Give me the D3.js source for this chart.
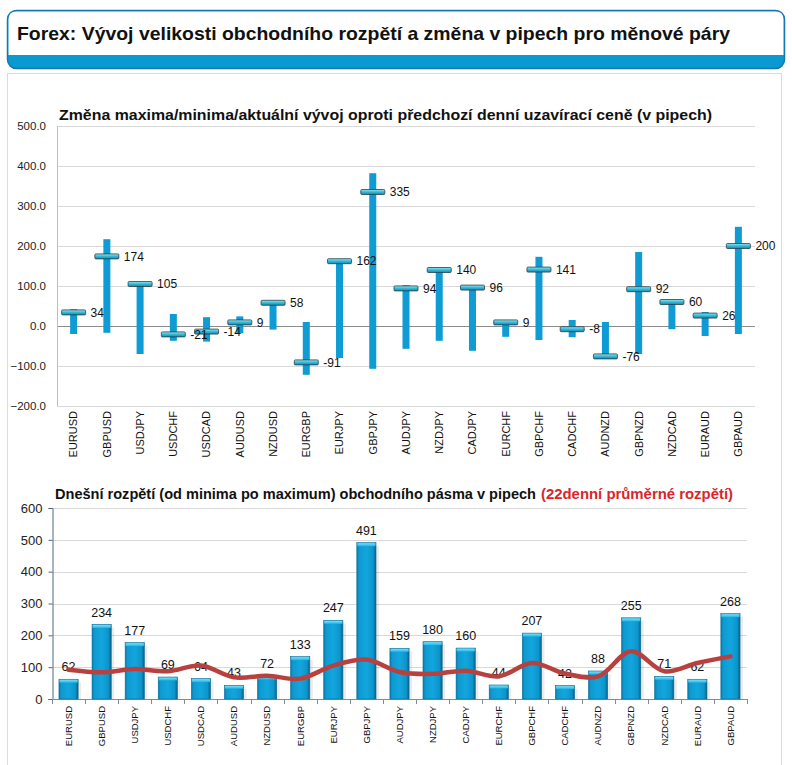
<!DOCTYPE html>
<html><head><meta charset="utf-8">
<script src="https://cdn.jsdelivr.net/npm/d3@7"></script>
<style>body{margin:0;background:#fff;}svg{display:block;font-family:"Liberation Sans",Arial,sans-serif;}</style>
</head><body>
<svg id="c" width="792" height="765"></svg>
<script>
const pairs = ["EURUSD","GBPUSD","USDJPY","USDCHF","USDCAD","AUDUSD","NZDUSD","EURGBP","EURJPY","GBPJPY","AUDJPY","NZDJPY","CADJPY","EURCHF","GBPCHF","CADCHF","AUDNZD","GBPNZD","NZDCAD","EURAUD","GBPAUD"];
const highChange = [42,217,108,30,22,24,60,10,165,382,102,143,99,12,173,15,10,185,63,35,248];
const lowChange = [-20,-17,-70,-37,-39,-18,-9,-122,-80,-107,-57,-37,-62,-27,-35,-28,-78,-70,-8,-25,-20];
const currentChange = [34,174,105,-21,-14,9,58,-91,162,335,94,140,96,9,141,-8,-76,92,60,26,200];
const topTicks = [-200,-100,0,100,200,300,400,500];
const todayRange = [62,234,177,69,64,43,72,133,247,491,159,180,160,44,207,42,88,255,71,62,268];
const avgRange22 = [92,84,94,87,105,68,73,64,105,124,85,79,89,71,113,80,71,150,87,113,134];
const bottomTicks = [0,100,200,300,400,500,600];

const svg = d3.select("#c");
const defs = svg.append("defs");

const gb = defs.append("linearGradient").attr("id","barGrad").attr("x1",0).attr("x2",1).attr("y1",0).attr("y2",0);
[[0,"#0a78a8"],[0.12,"#0e9ad0"],[0.5,"#12a6de"],[0.85,"#0c95cb"],[1,"#075f86"]].forEach(s=>gb.append("stop").attr("offset",s[0]).attr("stop-color",s[1]));
const gm = defs.append("linearGradient").attr("id","mkGrad").attr("x1",0).attr("x2",0).attr("y1",0).attr("y2",1);
[[0,"#9be6ee"],[0.45,"#3bbfd8"],[1,"#0f86b8"]].forEach(s=>gm.append("stop").attr("offset",s[0]).attr("stop-color",s[1]));
const gt = defs.append("linearGradient").attr("id","capGrad").attr("x1",0).attr("x2",0).attr("y1",0).attr("y2",1);
[[0,"#7fe0f4"],[1,"#1fb3e6"]].forEach(s=>gt.append("stop").attr("offset",s[0]).attr("stop-color",s[1]));

// header box
svg.append("rect").attr("x",7.5).attr("y",10.5).attr("width",777).attr("height",58).attr("rx",9)
  .attr("fill","#0a9ad0").attr("stroke","#1478b4").attr("stroke-width",1.5);
svg.append("path").attr("d","M8.5,55 L8.5,19.5 Q8.5,11.5 16.5,11.5 L775.5,11.5 Q783.5,11.5 783.5,19.5 L783.5,55 Z").attr("fill","#fff");
svg.append("text").attr("x",17).attr("y",40).attr("font-size",19).attr("font-weight","bold").attr("fill","#111")
  .attr("textLength",713).attr("lengthAdjust","spacingAndGlyphs")
  .text("Forex: Vývoj velikosti obchodního rozpětí a změna v pipech pro měnové páry");

// panel
svg.append("rect").attr("x",7.5).attr("y",73.5).attr("width",774).attr("height",700).attr("fill","#fff").attr("stroke","#dcdcdc");

// ---------- top chart ----------
const xT = d3.scaleBand().domain(pairs).range([57,755]);
const yT = d3.scaleLinear().domain([-200,500]).range([406,126]);
const gT = svg.append("g");
gT.append("text").attr("x",59).attr("y",120).attr("font-size",15).attr("font-weight","bold").attr("fill","#111")
  .attr("textLength",653).attr("lengthAdjust","spacingAndGlyphs")
  .text("Změna maxima/minima/aktuální vývoj oproti předchozí denní uzavírací ceně (v pipech)");
gT.selectAll(".grid").data(topTicks).join("line").attr("x1",57).attr("x2",755)
  .attr("y1",d=>Math.round(yT(d))+0.5).attr("y2",d=>Math.round(yT(d))+0.5)
  .attr("stroke",d=>d===0?"#8c8c8c":"#d9d9d9");
gT.append("line").attr("x1",57.5).attr("x2",57.5).attr("y1",126).attr("y2",406).attr("stroke","#bdbdbd");
gT.selectAll(".yl").data(topTicks).join("text").attr("x",46).attr("y",d=>yT(d)).attr("dy","0.35em")
  .attr("text-anchor","end").attr("font-size",11.5).attr("fill","#222").text(d=>d3.format(".1f")(d));
const cx = d=>xT(d)+xT.bandwidth()/2;
gT.selectAll(".rng").data(pairs).join("rect").attr("x",d=>cx(d)-3.5).attr("width",7)
  .attr("y",(d,i)=>yT(highChange[i])).attr("height",(d,i)=>yT(lowChange[i])-yT(highChange[i])).attr("fill","#0f9bd3");
gT.selectAll(".mk").data(pairs).join("rect").attr("x",d=>cx(d)-12).attr("width",24)
  .attr("y",(d,i)=>yT(currentChange[i])-2.5).attr("height",5).attr("rx",1)
  .attr("fill","url(#mkGrad)").attr("stroke","#2a3f4a").attr("stroke-width",0.8);
gT.selectAll(".vl").data(pairs).join("text").attr("x",d=>cx(d)+17).attr("y",(d,i)=>yT(currentChange[i])).attr("dy","0.35em")
  .attr("font-size",12).attr("fill","#111").text((d,i)=>currentChange[i]);
gT.selectAll(".xl").data(pairs).join("text").attr("transform",d=>`translate(${cx(d)},411) rotate(-90)`)
  .attr("dy","0.35em").attr("text-anchor","end").attr("font-size",11).attr("fill","#111").text(d=>d);

// ---------- bottom chart ----------
const xB = d3.scaleBand().domain(pairs).range([52,747]).paddingInner(0.42).paddingOuter(0.21);
const yB = d3.scaleLinear().domain([0,600]).range([699,508]);
const gB = svg.append("g");
gB.append("text").attr("x",55).attr("y",499).attr("font-size",14.5).attr("font-weight","bold").attr("fill","#111")
  .attr("textLength",481).attr("lengthAdjust","spacingAndGlyphs")
  .text("Dnešní rozpětí (od minima po maximum) obchodního pásma v pipech");
gB.append("text").attr("x",541).attr("y",499).attr("font-size",14.5).attr("font-weight","bold").attr("fill","#d9252b")
  .attr("textLength",192).attr("lengthAdjust","spacingAndGlyphs")
  .text("(22denní průměrné rozpětí)");
gB.selectAll(".grid").data(bottomTicks.filter(d=>d>0)).join("line").attr("x1",52).attr("x2",747)
  .attr("y1",d=>Math.round(yB(d))+0.5).attr("y2",d=>Math.round(yB(d))+0.5).attr("stroke","#d9d9d9");
const yAx = gB.append("g").attr("transform","translate(52.5,0)").call(d3.axisLeft(yB).tickValues(bottomTicks).tickSize(4).tickPadding(6));
yAx.select(".domain").attr("stroke","#4f6b86");
yAx.selectAll(".tick line").attr("stroke","#4f6b86");
yAx.selectAll("text").attr("font-size",13).attr("fill","#222").attr("font-family","Liberation Sans, Arial, sans-serif");
gB.append("line").attr("x1",52).attr("x2",747).attr("y1",699.5).attr("y2",699.5).attr("stroke","#7f8c99");
const xBand = d3.scaleBand().domain(pairs).range([52,747]);
gB.selectAll(".xt").data(pairs.concat(["_end"])).join("line")
  .attr("x1",(d,i)=>Math.round(52+i*xBand.step())+0.5).attr("x2",(d,i)=>Math.round(52+i*xBand.step())+0.5)
  .attr("y1",699).attr("y2",704).attr("stroke","#7f8c99");
gB.selectAll(".bar").data(pairs).join("rect").attr("x",d=>xB(d)).attr("width",xB.bandwidth())
  .attr("y",(d,i)=>yB(todayRange[i])).attr("height",(d,i)=>yB(0)-yB(todayRange[i])).attr("fill","url(#barGrad)")
  .attr("stroke","#0a6f9a").attr("stroke-width",0.6);
gB.selectAll(".cap").data(pairs).join("rect").attr("x",d=>xB(d)+0.5).attr("width",xB.bandwidth()-1)
  .attr("y",(d,i)=>yB(todayRange[i])+0.5).attr("height",3).attr("fill","url(#capGrad)");
gB.selectAll(".sh").data(pairs).join("rect").attr("x",d=>xB(d)+xB.bandwidth()).attr("width",3)
  .attr("y",(d,i)=>yB(todayRange[i])+3).attr("height",(d,i)=>yB(0)-yB(todayRange[i])-3).attr("fill","#000").attr("opacity",0.08);
gB.selectAll(".bl").data(pairs).join("text").attr("x",d=>xB(d)+xB.bandwidth()/2).attr("y",(d,i)=>yB(todayRange[i])-8)
  .attr("text-anchor","middle").attr("font-size",12.5).attr("fill","#111").text((d,i)=>todayRange[i]);
const line = d3.line().x(d=>xBand(d.p)+xBand.bandwidth()/2).y(d=>yB(d.v)).curve(d3.curveCatmullRom.alpha(0.5));
gB.append("path").datum(pairs.map((p,i)=>({p,v:avgRange22[i]}))).attr("d",line)
  .attr("fill","none").attr("stroke","#b8413f").attr("stroke-width",4.5).attr("stroke-linejoin","round").attr("stroke-linecap","round");
gB.selectAll(".xl").data(pairs).join("text").attr("transform",d=>`translate(${xBand(d)+xBand.bandwidth()/2},706) rotate(-90)`)
  .attr("dy","0.35em").attr("text-anchor","end").attr("font-size",9.5).attr("fill","#111").text(d=>d);
</script>
</body></html>
